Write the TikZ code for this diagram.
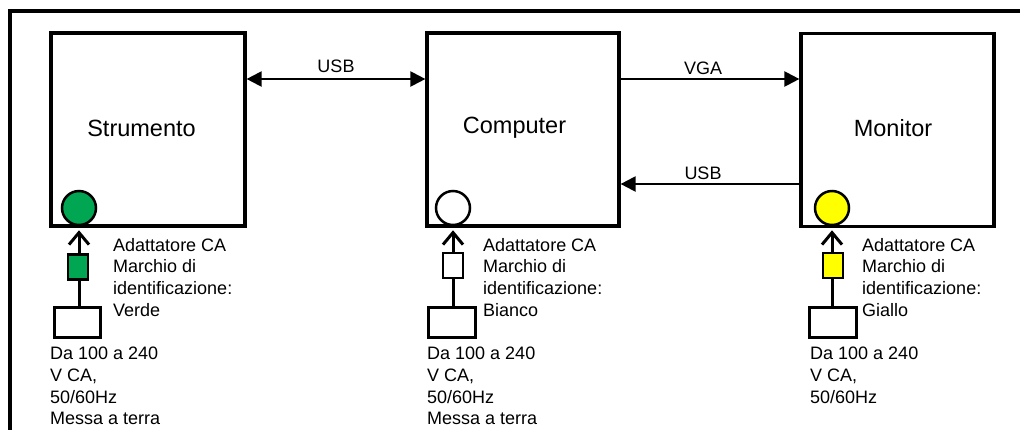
\documentclass[tikz,border=0pt]{standalone}
\usepackage{fontspec}
\setmainfont{Liberation Sans}
\usetikzlibrary{arrows.meta}
\definecolor{ledgreen}{RGB}{0,166,81}
\definecolor{ledyellow}{RGB}{255,255,0}
\begin{document}
\begin{tikzpicture}[x=1pt,y=-1pt,
 unitbox/.style={draw,line width=3.2pt,minimum width=193pt,minimum height=193pt,inner sep=0},
 boxlabel/.style={font=\fontsize{23.5}{28}\selectfont,inner sep=0},
 lbl/.style={font=\fontsize{18}{21.7}\selectfont,inner sep=0,align=left,anchor=north west},
 wirelbl/.style={font=\fontsize{18}{21.7}\selectfont,inner sep=0},
 led/.style={circle,draw,line width=2.5pt,minimum size=34pt,inner sep=0},
 ferrite/.style={draw,line width=2.5pt,minimum width=20pt,minimum height=25pt,inner sep=0},
 plug/.style={draw,line width=3pt,minimum width=46pt,minimum height=30pt,inner sep=0},
 tri/.tip={Triangle[length=15pt,width=15pt]},
 link/.style={line width=2.2pt},
 feed/.style={line width=3pt,shorten >=4pt,-{Straight Barb[length=12pt,width=20pt,line width=3pt]}}
]
\useasboundingbox (0,0) rectangle (1020,429);
% outer frame (cropped)
\draw[line width=3.2pt] (10,430) -- (10,11) -- (1021,11);

% main units
\node[unitbox,minimum width=194pt] (strum) at (148,129.5) {};
\node[unitbox,minimum width=192pt] (comp) at (523,129.5) {};
\node[unitbox] (mon) at (897.5,130) {};
\node[boxlabel] (strumlbl) at (141.5,128) {Strumento};
\node[boxlabel] (complbl) at (514.5,128) {Computer};
\node[boxlabel] (monlbl) at (893,128) {Monitor};

% wiring
\coordinate (ytop) at (0,79);
\coordinate (ybot) at (0,184);
\draw[link,tri-tri] (strum.east |- ytop) -- (comp.west |- ytop);
\draw[link,-tri] (comp.east |- ytop) -- (mon.west |- ytop);
\draw[link,-tri] (mon.west |- ybot) -- (comp.east |- ybot);
\node[wirelbl] (usb1) at (336,66) {USB};
\node[wirelbl] (vga) at (703,68) {VGA};
\node[wirelbl] (usb2) at (703,173) {USB};

% plugs
\node[plug] (plugS) at (77,322) {};
\node[plug,minimum width=47pt] (plugC) at (451.5,322) {};
\node[plug,minimum width=47pt] (plugM) at (832.5,322) {};

% LEDs
\node[led,fill=ledgreen] (ledS) at (79,208) {};
\node[led,fill=white] (ledC) at (453,208) {};
\node[led,fill=ledyellow] (ledM) at (832,208) {};

% power feeds
\draw[feed] (plugS.north -| ledS) -- (ledS.south);
\draw[feed] (plugC.north -| ledC) -- (ledC.south);
\draw[feed] (plugM.north -| ledM) -- (ledM.south);

% ferrite markers
\node[ferrite,fill=ledgreen] (ferS) at (78,267) {};
\node[ferrite,fill=white] (ferC) at (453,265.5) {};
\node[ferrite,fill=ledyellow] (ferM) at (833,265.5) {};

% texts
\node[lbl] (adS) at (113,238) {Adattatore CA\\Marchio di\\identificazione:\\Verde};
\node[lbl] (adC) at (483,238) {Adattatore CA\\Marchio di\\identificazione:\\Bianco};
\node[lbl] (adM) at (862,238) {Adattatore CA\\Marchio di\\identificazione:\\Giallo};
\node[lbl] (vS) at (50,347) {Da 100 a 240\\V CA,\\50/60Hz\\Messa a terra};
\node[lbl] (vC) at (427,347) {Da 100 a 240\\V CA,\\50/60Hz\\Messa a terra};
\node[lbl] (vM) at (810,347) {Da 100 a 240\\V CA,\\50/60Hz};
\end{tikzpicture}
\end{document}
